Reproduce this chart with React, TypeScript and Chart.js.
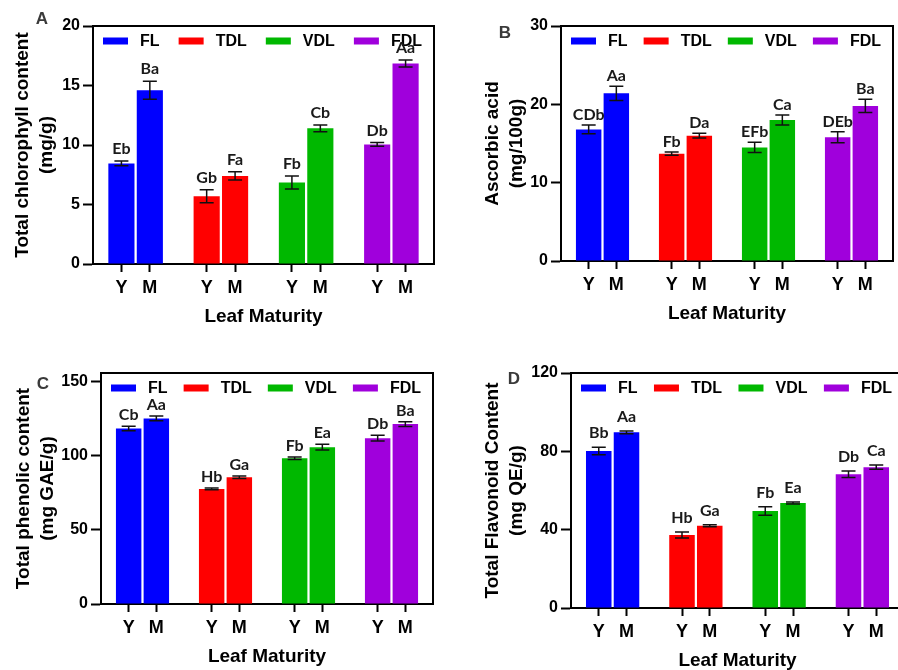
import React, { useEffect, useRef } from 'react';
import { Chart, registerables } from 'chart.js';

Chart.register(...registerables);
Chart.defaults.color = '#000';
Chart.defaults.font.family = '"Liberation Sans", Arial, sans-serif';

// ---------- data ----------
const groups = ['FL', 'TDL', 'VDL', 'FDL'];
const stages = ['Y', 'M'];
const groupColors = ['#0000FF', '#FF0000', '#00B800', '#A000DC'];
const xAxisTitle = 'Leaf Maturity';

// A: total chlorophyll (order: FL-Y, FL-M, TDL-Y, TDL-M, VDL-Y, VDL-M, FDL-Y, FDL-M)
const chlorophyllMean = [8.45, 14.6, 5.7, 7.4, 6.85, 11.4, 10.05, 16.85];
const chlorophyllErr = [0.2, 0.75, 0.55, 0.35, 0.55, 0.28, 0.15, 0.3];
const chlorophyllLetters = ['Eb', 'Ba', 'Gb', 'Fa', 'Fb', 'Cb', 'Db', 'Aa'];
const chlorophyllTicks = [0, 5, 10, 15, 20];
const chlorophyllTitle = ['Total chlorophyll content', '(mg/g)'];

// B: ascorbic acid
const ascorbicMean = [16.8, 21.4, 13.7, 16.0, 14.5, 18.0, 15.8, 19.8];
const ascorbicErr = [0.55, 0.9, 0.2, 0.3, 0.65, 0.65, 0.7, 0.85];
const ascorbicLetters = ['CDb', 'Aa', 'Fb', 'Da', 'EFb', 'Ca', 'DEb', 'Ba'];
const ascorbicTicks = [0, 10, 20, 30];
const ascorbicTitle = ['Ascorbic acid', '(mg/100g)'];

// C: total phenolic
const phenolicMean = [118.5, 125.3, 77.7, 85.6, 98.4, 105.9, 112.0, 121.5];
const phenolicErr = [1.5, 1.6, 0.6, 0.8, 0.8, 1.9, 2.0, 1.6];
const phenolicLetters = ['Cb', 'Aa', 'Hb', 'Ga', 'Fb', 'Ea', 'Db', 'Ba'];
const phenolicTicks = [0, 50, 100, 150];
const phenolicTitle = ['Total phenolic content', '(mg GAE/g)'];

// D: total flavonoid
const flavonoidMean = [80.2, 89.7, 37.3, 42.0, 49.5, 53.6, 68.3, 71.9];
const flavonoidErr = [1.9, 0.7, 1.5, 0.5, 2.2, 0.5, 1.7, 1.1];
const flavonoidLetters = ['Bb', 'Aa', 'Hb', 'Ga', 'Fb', 'Ea', 'Db', 'Ca'];
const flavonoidTicks = [0, 40, 80, 120];
const flavonoidTitle = ['Total Flavonoid Content', '(mg QE/g)'];

// x categories: empty slot before each group and after the last
const xLabels: string[] = [''];
groups.forEach(() => {
  stages.forEach((s) => xLabels.push(s));
  xLabels.push('');
});
const slotOf = (gi: number, si: number) => 1 + gi * (stages.length + 1) + si;

const FONT = '"Liberation Sans", Arial, sans-serif';

// ---------- plugins ----------
const framePlugin = {
  id: 'frame',
  afterDraw(chart: any, _a: any, opts: any) {
    const { ctx, chartArea } = chart;
    const { left, top, right, bottom } = chartArea;
    ctx.save();
    ctx.strokeStyle = '#000';
    ctx.lineWidth = 2;
    ctx.beginPath();
    ctx.moveTo(left, top);
    ctx.lineTo(right, top);
    ctx.lineTo(right, bottom);
    ctx.stroke();
    ctx.font = `bold 17px ${FONT}`;
    ctx.fillStyle = '#3a3a3a';
    ctx.textAlign = 'center';
    ctx.textBaseline = 'middle';
    ctx.fillText(opts.letter, left + opts.dx, top + opts.dy);
    ctx.restore();
  },
};

const legendPlugin = {
  id: 'insideLegend',
  afterDatasetsDraw(chart: any, _a: any, opts: any) {
    const { ctx, chartArea } = chart;
    const items = chart.data.datasets.map((d: any) => ({ text: d.label, color: d.backgroundColor }));
    ctx.save();
    ctx.font = `bold 16px ${FONT}`;
    const bw = 25, bh = 7, tg = 12;
    const widths = items.map((it: any) => bw + tg + ctx.measureText(it.text).width);
    const total = widths.reduce((a: number, b: number) => a + b, 0);
    const gap = (chartArea.right - chartArea.left - opts.padLeft - opts.padRight - total) / (items.length - 1);
    let x = chartArea.left + opts.padLeft;
    const y = chartArea.top + opts.offsetY;
    items.forEach((it: any, i: number) => {
      ctx.fillStyle = it.color;
      ctx.fillRect(x, y - bh / 2, bw, bh);
      ctx.fillStyle = '#000';
      ctx.textAlign = 'left';
      ctx.textBaseline = 'middle';
      ctx.fillText(it.text, x + bw + tg, y + 1);
      x += widths[i] + gap;
    });
    ctx.restore();
  },
};

const errorBarPlugin = {
  id: 'errorBars',
  afterDatasetsDraw(chart: any, _a: any, opts: any) {
    const { ctx } = chart;
    const yScale = chart.scales.y;
    ctx.save();
    chart.data.datasets.forEach((ds: any, di: number) => {
      const meta = chart.getDatasetMeta(di);
      meta.data.forEach((bar: any, i: number) => {
        const v = ds.data[i];
        if (v === null || v === undefined) return;
        const e = ds.errors[i];
        const x = bar.x;
        const yHi = yScale.getPixelForValue(v + e);
        const yLo = yScale.getPixelForValue(v - e);
        const cap = 14;
        ctx.strokeStyle = '#111';
        ctx.lineWidth = 1.5;
        ctx.beginPath();
        ctx.moveTo(x, yLo);
        ctx.lineTo(x, yHi);
        ctx.moveTo(x - cap / 2, yHi);
        ctx.lineTo(x + cap / 2, yHi);
        ctx.moveTo(x - cap / 2, yLo);
        ctx.lineTo(x + cap / 2, yLo);
        ctx.stroke();
        ctx.fillStyle = '#1a1a1a';
        ctx.font = 'bold 16px Lato, "Open Sans", sans-serif';
        ctx.textAlign = 'center';
        ctx.textBaseline = 'alphabetic';
        ctx.fillText(ds.letters[i], x, yHi - opts.labelGap);
      });
    });
    ctx.restore();
  },
};

// ---------- chart config ----------
type PanelCfg = {
  left: number; top: number; w: number; h: number;
  yAxisWidth: number; pad: { top: number; right: number; bottom: number; left: number };
  yMax: number; ticks: number[]; title: string[]; titlePad: number;
  mean: number[]; err: number[]; letters: string[];
  letter: string; letterDx: number; letterDy: number; labelGap: number;
};

function buildConfig(p: PanelCfg): any {
  const datasets = groups.map((g, gi) => {
    const data: (number | null)[] = xLabels.map(() => null);
    const errors: (number | null)[] = xLabels.map(() => null);
    const letters: string[] = xLabels.map(() => '');
    stages.forEach((_, si) => {
      const k = gi * stages.length + si;
      const slot = slotOf(gi, si);
      data[slot] = p.mean[k];
      errors[slot] = p.err[k];
      letters[slot] = p.letters[k];
    });
    return {
      label: g,
      data,
      errors,
      letters,
      backgroundColor: groupColors[gi],
      borderWidth: 0,
      grouped: false,
      barPercentage: 0.92,
      categoryPercentage: 1,
    };
  });

  return {
    type: 'bar',
    data: { labels: xLabels, datasets },
    plugins: [framePlugin, legendPlugin, errorBarPlugin],
    options: {
      responsive: false,
      animation: false,
      devicePixelRatio: 1,
      layout: { padding: p.pad },
      plugins: {
        legend: { display: false },
        tooltip: { enabled: false },
        title: { display: false },
        frame: { letter: p.letter, dx: p.letterDx, dy: p.letterDy },
        insideLegend: { padLeft: 10, padRight: 12, offsetY: 15 },
        errorBars: { labelGap: p.labelGap },
      },
      scales: {
        x: {
          type: 'category',
          offset: false,
          border: { display: true, color: '#000', width: 2 },
          grid: {
            offset: false,
            drawOnChartArea: false,
            drawTicks: true,
            tickLength: 8,
            tickWidth: 2,
            tickColor: (c: any) => (c.tick && c.tick.label ? '#000' : 'rgba(0,0,0,0)'),
          },
          ticks: {
            autoSkip: false,
            maxRotation: 0,
            minRotation: 0,
            padding: 5,
            color: '#000',
            font: { size: 18, weight: 'bold', family: FONT },
          },
          title: {
            display: true,
            text: xAxisTitle,
            color: '#000',
            font: { size: 19, weight: 'bold', family: FONT, lineHeight: 1.2 },
            padding: { top: 0, bottom: 5.6 },
          },
          afterFit: (s: any) => { s.height = 70; },
        },
        y: {
          type: 'linear',
          min: 0,
          max: p.yMax,
          border: { display: true, color: '#000', width: 2 },
          grid: {
            drawOnChartArea: false,
            drawTicks: true,
            tickLength: 10,
            tickWidth: 2,
            tickColor: '#000',
          },
          afterBuildTicks: (s: any) => { s.ticks = p.ticks.map((v) => ({ value: v })); },
          ticks: {
            padding: 3,
            color: '#000',
            font: { size: 16, weight: 'bold', family: FONT },
          },
          title: {
            display: true,
            text: p.title,
            color: '#000',
            font: { size: 19, weight: 'bold', family: FONT, lineHeight: 1.26 },
            padding: { top: p.titlePad, bottom: 0 },
          },
          afterFit: (s: any) => { s.width = p.yAxisWidth; },
        },
      },
    },
  };
}

const panels: PanelCfg[] = [
  {
    left: 0, top: 0, w: 449, h: 335, yAxisWidth: 93, pad: { top: 26, right: 15, bottom: 1, left: 0 },
    yMax: 20, ticks: chlorophyllTicks, title: chlorophyllTitle, titlePad: 10.5,
    mean: chlorophyllMean, err: chlorophyllErr, letters: chlorophyllLetters,
    letter: 'A', letterDx: -51, letterDy: -7, labelGap: 7,
  },
  {
    left: 449, top: 0, w: 449, h: 335, yAxisWidth: 112, pad: { top: 26, right: 1, bottom: 4, left: 0 },
    yMax: 30, ticks: ascorbicTicks, title: ascorbicTitle, titlePad: 31.5,
    mean: ascorbicMean, err: ascorbicErr, letters: ascorbicLetters,
    letter: 'B', letterDx: -56, letterDy: 7, labelGap: 5,
  },
  {
    left: 0, top: 335, w: 449, h: 340, yAxisWidth: 101, pad: { top: 38, right: 16, bottom: 1, left: 0 },
    yMax: 156, ticks: phenolicTicks, title: phenolicTitle, titlePad: 11.5,
    mean: phenolicMean, err: phenolicErr, letters: phenolicLetters,
    letter: 'C', letterDx: -58, letterDy: 11, labelGap: 6,
  },
  {
    left: 449, top: 335, w: 460, h: 345, yAxisWidth: 122, pad: { top: 38, right: 2, bottom: 2, left: 0 },
    yMax: 120, ticks: flavonoidTicks, title: flavonoidTitle, titlePad: 31.5,
    mean: flavonoidMean, err: flavonoidErr, letters: flavonoidLetters,
    letter: 'D', letterDx: -57, letterDy: 6, labelGap: 9,
  },
];

function Panel({ cfg }: { cfg: PanelCfg }) {
  const ref = useRef<HTMLCanvasElement | null>(null);
  useEffect(() => {
    if (!ref.current) return;
    const chart = new Chart(ref.current, buildConfig(cfg));
    return () => chart.destroy();
  }, [cfg]);
  return (
    <canvas
      ref={ref}
      width={cfg.w}
      height={cfg.h}
      style={{ position: 'absolute', left: cfg.left, top: cfg.top, width: cfg.w, height: cfg.h, display: 'block' }}
    />
  );
}

export default function App() {
  return (
    <div
      style={{
        position: 'fixed', left: 0, top: 0, width: 898, height: 670,
        overflow: 'hidden', background: '#fff',
      }}
    >
      {panels.map((p) => (
        <Panel key={p.letter} cfg={p} />
      ))}
    </div>
  );
}
